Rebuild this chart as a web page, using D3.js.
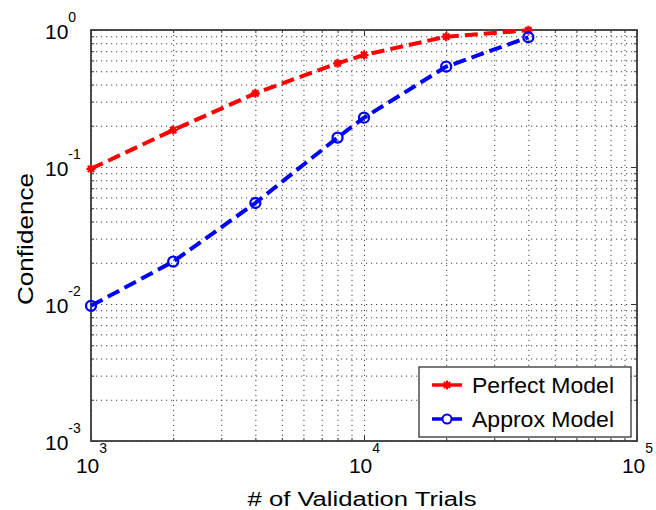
<!DOCTYPE html>
<html>
<head>
<meta charset="utf-8">
<script src="https://cdn.jsdelivr.net/npm/d3@7"></script>
<style>
  body { margin: 0; background: #fff; }
  text { font-family: "Liberation Sans", Arial, Helvetica, sans-serif; fill: #000; }
</style>
</head>
<body>
<div id="container"></div>
<script>
const WIDTH = 656;
const HEIGHT = 510;
const MARGIN = { TOP: 30, BOTTOM: 69, LEFT: 91, RIGHT: 19 };

const width = WIDTH - MARGIN.LEFT - MARGIN.RIGHT;
const height = HEIGHT - MARGIN.TOP - MARGIN.BOTTOM;

// data
const trials = [1000, 2000, 4000, 8000, 10000, 20000, 40000];
const perfectModel = [0.097, 0.186, 0.345, 0.571, 0.657, 0.894, 0.995];
const approxModel = [0.0097, 0.0204, 0.0546, 0.164, 0.229, 0.54, 0.885];
const seriesNames = ['Perfect Model', 'Approx Model'];
const xMajor = [1e3, 1e4, 1e5];
const yMajor = [1e-3, 1e-2, 1e-1, 1];

const svg = d3.select('#container')
              .append('svg')
                .attr('width', WIDTH)
                .attr('height', HEIGHT);

const container = svg.append('g')
                     .attr('transform', `translate(${MARGIN.LEFT}, ${MARGIN.TOP})`);

const xscale = d3.scaleLog().domain([1e3, 1e5]).range([0, width]);
const yscale = d3.scaleLog().domain([1e-3, 1]).range([height, 0]);

const xAll = xscale.ticks();
const yAll = yscale.ticks();

// dotted grid
const gridStyle = g => {
    g.select('.domain').remove();
    g.selectAll('line')
      .attr('stroke', '#444')
      .attr('stroke-width', 1)
      .attr('stroke-dasharray', '1.2,3.8');
    g.selectAll('text').remove();
};

container.append('g')
    .attr('transform', `translate(0, ${height})`)
    .call(d3.axisBottom(xscale).tickValues(xAll).tickSize(-height).tickFormat(''))
    .call(gridStyle);

container.append('g')
    .call(d3.axisLeft(yscale).tickValues(yAll).tickSize(-width).tickFormat(''))
    .call(gridStyle);

// inside ticks on every side
const isMajor = (d, list) => list.some(m => Math.abs(Math.log10(d) - Math.log10(m)) < 1e-9);

const tickAxis = (axisFn, scale, values, transform) => {
    const g = container.append('g')
        .attr('transform', transform)
        .call(axisFn(scale).tickValues(values).tickSizeOuter(0).tickFormat(''));
    g.select('.domain').remove();
    g.selectAll('.tick line')
      .attr('stroke', '#333')
      .attr('stroke-width', 1);
    return g;
};

const bx = tickAxis(d3.axisTop, xscale, xAll, `translate(0, ${height})`);
bx.selectAll('.tick line').attr('y2', d => isMajor(d, xMajor) ? -6 : -3);
const tx = tickAxis(d3.axisBottom, xscale, xAll, 'translate(0, 0)');
tx.selectAll('.tick line').attr('y2', d => isMajor(d, xMajor) ? 6 : 3);
const ly = tickAxis(d3.axisRight, yscale, yAll, 'translate(0, 0)');
ly.selectAll('.tick line').attr('x2', d => isMajor(d, yMajor) ? 6 : 3);
const ry = tickAxis(d3.axisLeft, yscale, yAll, `translate(${width}, 0)`);
ry.selectAll('.tick line').attr('x2', d => isMajor(d, yMajor) ? -6 : -3);

// frame
container.append('rect')
    .attr('width', width)
    .attr('height', height)
    .attr('fill', 'none')
    .attr('stroke', '#3a3a3a')
    .attr('stroke-width', 1.8);

// tick labels 10^n
const xLabels = container.append('g')
    .attr('transform', `translate(0, ${height})`)
    .call(d3.axisBottom(xscale).tickValues(xMajor).tickSize(0).tickFormat(''));
xLabels.select('.domain').remove();
xLabels.selectAll('.tick').each(function (d) {
    const t = d3.select(this).select('text')
        .attr('y', 32)
        .attr('dy', 0)
        .attr('text-anchor', 'middle')
        .attr('font-size', 21);
    t.append('tspan').text('10');
    t.append('tspan').attr('font-size', 14).attr('dy', -20).text(Math.round(Math.log10(d)));
});

const yLabels = container.append('g')
    .call(d3.axisLeft(yscale).tickValues(yMajor).tickSize(0).tickFormat(''));
yLabels.select('.domain').remove();
yLabels.selectAll('.tick').each(function (d) {
    const t = d3.select(this).select('text')
        .attr('x', -46)
        .attr('dy', 0)
        .attr('y', 8)
        .attr('text-anchor', 'start')
        .attr('font-size', 21);
    t.append('tspan').text('10');
    const e = Math.round(Math.log10(d));
    t.append('tspan').attr('font-size', 14).attr('dy', -17).text(e < 0 ? `-${-e}` : e);
});

// series
const line = d3.line()
    .x(d => xscale(d[0]))
    .y(d => yscale(d[1]));

const perfect = trials.map((t, i) => [t, perfectModel[i]]);
const approx = trials.map((t, i) => [t, approxModel[i]]);

container.append('path')
    .datum(perfect)
    .attr('d', line)
    .attr('fill', 'none')
    .attr('stroke', '#f00')
    .attr('stroke-width', 4)
    .attr('stroke-dasharray', '13,6');

container.append('path')
    .datum(approx)
    .attr('d', line)
    .attr('fill', 'none')
    .attr('stroke', '#00f')
    .attr('stroke-width', 4)
    .attr('stroke-dasharray', '13,6');

// matlab-like '*' marker
const asterisk = r =>
    `M${-r},0L${r},0M0,${-r}L0,${r}M${-r * 0.7},${-r * 0.7}L${r * 0.7},${r * 0.7}M${-r * 0.7},${r * 0.7}L${r * 0.7},${-r * 0.7}`;

container.selectAll('.pm')
    .data(perfect)
    .enter()
    .append('path')
      .attr('class', 'pm')
      .attr('transform', d => `translate(${xscale(d[0])}, ${yscale(d[1])})`)
      .attr('d', asterisk(4.5))
      .attr('stroke', '#f00')
      .attr('stroke-width', 2.2);

container.selectAll('.am')
    .data(approx)
    .enter()
    .append('circle')
      .attr('class', 'am')
      .attr('cx', d => xscale(d[0]))
      .attr('cy', d => yscale(d[1]))
      .attr('r', 5)
      .attr('fill', 'none')
      .attr('stroke', '#00f')
      .attr('stroke-width', 2.3);

// legend
const legend = svg.append('g').attr('transform', 'translate(419, 367)');
legend.append('rect')
    .attr('width', 212)
    .attr('height', 70)
    .attr('fill', '#fff')
    .attr('stroke', '#222')
    .attr('stroke-width', 1.2);

const colors = ['#f00', '#00f'];
seriesNames.forEach((name, i) => {
    const row = legend.append('g').attr('transform', `translate(0, ${18 + i * 34})`);
    row.append('line')
        .attr('x1', 13).attr('x2', 43)
        .attr('stroke', colors[i])
        .attr('stroke-width', 3.5);
    if (i === 0) {
        row.append('path')
            .attr('transform', 'translate(28, 0)')
            .attr('d', asterisk(4.5))
            .attr('stroke', '#f00')
            .attr('stroke-width', 2);
    } else {
        row.append('circle')
            .attr('cx', 28).attr('r', 4.5)
            .attr('fill', '#fff')
            .attr('stroke', '#00f')
            .attr('stroke-width', 2);
    }
    row.append('text')
        .attr('x', 53)
        .attr('y', 8)
        .attr('font-size', 22)
        .attr('textLength', 142)
        .attr('lengthAdjust', 'spacingAndGlyphs')
        .text(name);
});

// axis titles
svg.append('text')
    .attr('x', 362)
    .attr('y', 506)
    .attr('text-anchor', 'middle')
    .attr('font-size', 20)
    .attr('textLength', 229)
    .attr('lengthAdjust', 'spacingAndGlyphs')
    .text('# of Validation Trials');

svg.append('text')
    .attr('transform', 'translate(33, 239) rotate(-90)')
    .attr('text-anchor', 'middle')
    .attr('font-size', 22)
    .attr('textLength', 132)
    .attr('lengthAdjust', 'spacingAndGlyphs')
    .text('Confidence');
</script>
</body>
</html>
